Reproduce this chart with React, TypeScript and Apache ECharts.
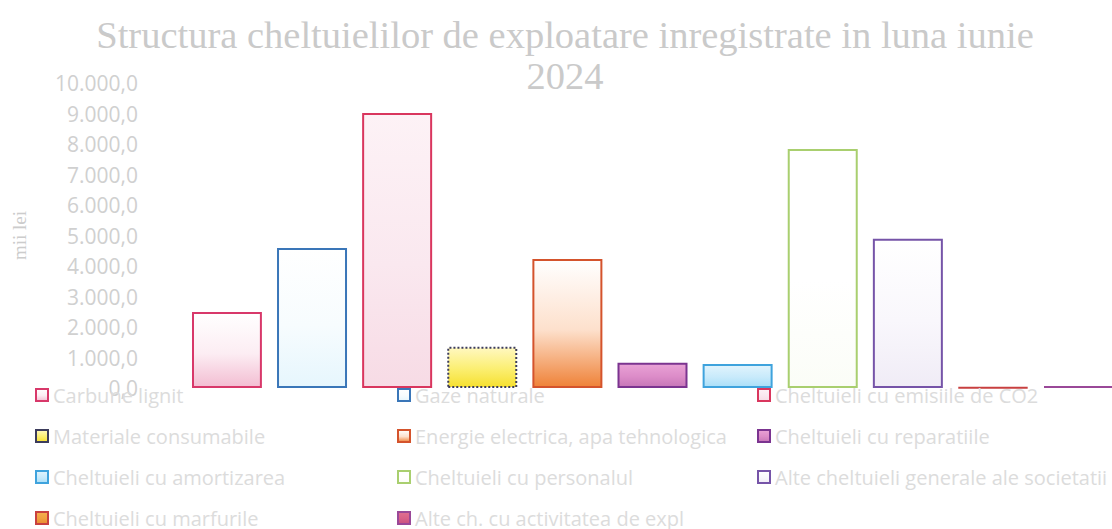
import React, { useEffect, useRef } from "react";
import * as echarts from "echarts";

const titleText = "Structura cheltuielilor de exploatare inregistrate in luna iunie\n2024";
const yAxisName = "mii lei";
const categories = ["iunie 2024"];
const seriesNames = [
  "Carbune lignit",
  "Gaze naturale",
  "Cheltuieli cu emisiile de CO2",
  "Materiale consumabile",
  "Energie electrica, apa tehnologica",
  "Cheltuieli cu reparatiile",
  "Cheltuieli cu amortizarea",
  "Cheltuieli cu personalul",
  "Alte cheltuieli generale ale societatii",
  "Cheltuieli cu marfurile",
  "Alte ch. cu activitatea de expl",
];
const seriesValues = [2490, 4590, 9020, 1350, 4230, 830, 790, 7840, 4890, 20, 60];
const yMin = 0;
const yMax = 10000;
const yInterval = 1000;

const borderColors = [
  "#d8386a", "#3a76b8", "#d9365e", "#3c3c5c", "#d4532c", "#7b3490",
  "#3fa3dd", "#a9cf6f", "#7654a8", "#c84040", "#9a4898",
];
const fillTops = [
  "#ffffff", "#ffffff", "#fdf2f6", "#fff8c0", "#ffffff", "#e9a2d6",
  "#e2f4fd", "#ffffff", "#ffffff", "#f5b050", "#e07090",
];
const fillMids = [
  "#fcedf3", "#f7fcfe", "#fae8ef", "#fbee70", "#fde0cc", "#dc8cc8",
  "#c8eafb", "#ffffff", "#f9f7fc", "#f0a040", "#d86088",
];
const fillBottoms = [
  "#f3bdd2", "#e6f6fd", "#f7dbe5", "#f6e030", "#ef8238", "#c676b8",
  "#aadff8", "#fbfdf7", "#f0ecf6", "#e88a30", "#c85080",
];
const borderTypes = ["solid", "solid", "solid", "dotted", "solid", "solid", "solid", "solid", "solid", "solid", "solid"];

const legendCols = [35, 397, 757];
const legendRows = [395, 436, 477, 518];

function fmt(v: number): string {
  const s = Math.round(Math.abs(v)).toString().replace(/\B(?=(\d{3})+(?!\d))/g, ".");
  return (v < 0 ? "-" : "") + s + ",0";
}

export default function App() {
  const ref = useRef<HTMLDivElement>(null);
  useEffect(() => {
    if (!ref.current) return;
    const chart = echarts.init(ref.current, null, { renderer: "svg" });
    const series = seriesNames.map((name, i) => ({
      name,
      type: "bar",
      data: [seriesValues[i]],
      barWidth: 70,
      barGap: "21.6%",
      itemStyle: {
        color: new echarts.graphic.LinearGradient(0, 0, 0, 1, [
          { offset: 0, color: fillTops[i] },
          { offset: 0.55, color: fillMids[i] },
          { offset: 1, color: fillBottoms[i] },
        ]),
        borderColor: borderColors[i],
        borderWidth: 2,
        borderType: borderTypes[i],
      },
    }));
    const legends = seriesNames.map((name, i) => ({
      data: [name],
      left: legendCols[i % 3],
      top: legendRows[Math.floor(i / 3)] - 10,
      padding: 0,
      itemWidth: 12,
      itemHeight: 12,
      selectedMode: false,
      icon: "rect",
      textStyle: {
        fontFamily: "Open Sans",
        fontSize: 20,
        lineHeight: 20,
        color: "#dcdcdc",
      },
    }));
    chart.setOption({
      animation: false,
      backgroundColor: "#ffffff",
      title: {
        text: titleText,
        left: 565,
        top: 14,
        padding: 0,
        textAlign: "center",
        textStyle: {
          fontFamily: "Liberation Serif",
          fontSize: 38.5,
          fontWeight: "normal",
          color: "#cacaca",
          lineHeight: 41,
        },
      },
      legend: legends,
      grid: { left: 193, right: 0, top: 83, bottom: 141, containLabel: false },
      xAxis: {
        type: "category",
        data: categories,
        axisLine: { show: false },
        axisTick: { show: false },
        axisLabel: { show: false },
        splitLine: { show: false },
      },
      yAxis: {
        type: "value",
        min: yMin,
        max: yMax,
        interval: yInterval,
        name: yAxisName,
        nameLocation: "middle",
        nameRotate: 90,
        nameGap: 164,
        nameTextStyle: {
          fontFamily: "Liberation Serif",
          fontSize: 19,
          color: "#cccccc",
        },
        axisLine: { show: false },
        axisTick: { show: false },
        splitLine: { show: false },
        axisLabel: {
          margin: 55,
          fontFamily: "Open Sans",
          fontSize: 21,
          color: "#d0d0d0",
          formatter: (v: number) => fmt(v),
        },
      },
      series,
    });
    return () => chart.dispose();
  }, []);
  return (
    <div
      ref={ref}
      style={{ position: "absolute", left: 0, top: 0, width: 1112, height: 529 }}
    />
  );
}
